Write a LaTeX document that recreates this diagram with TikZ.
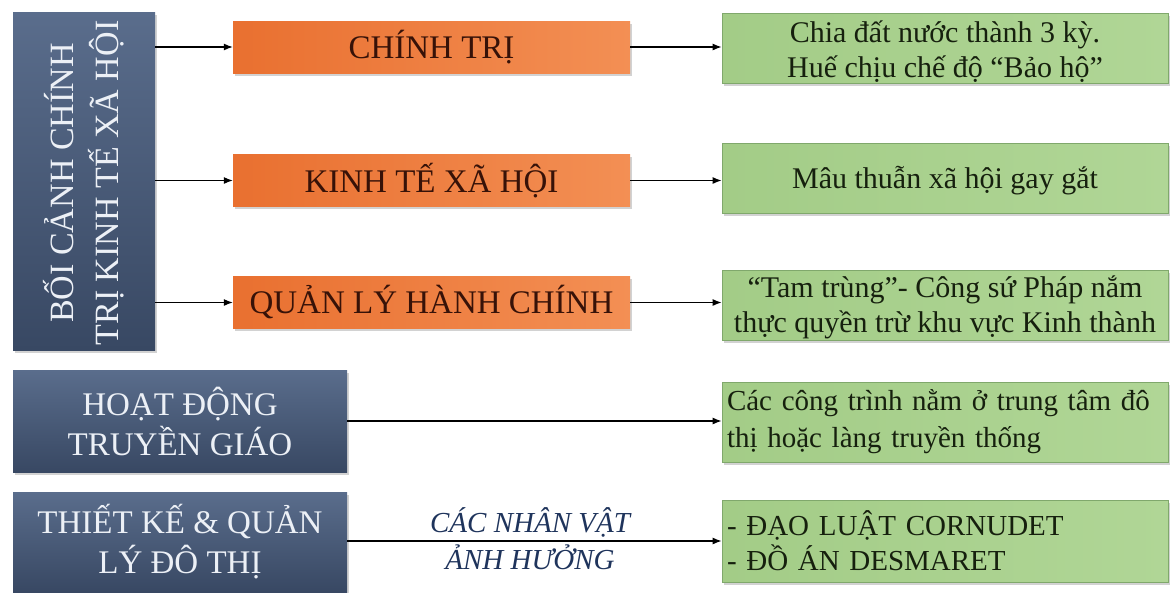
\documentclass[tikz,border=0pt]{standalone}
\usepackage{fontspec}
\setmainfont{Liberation Serif}
\usetikzlibrary{arrows.meta,shadows,shadings}
\definecolor{dkTop}{RGB}{90,109,140}
\definecolor{dkBot}{RGB}{56,72,99}
\definecolor{orL}{RGB}{233,112,48}
\definecolor{orR}{RGB}{243,143,84}
\definecolor{grL}{RGB}{163,204,135}
\definecolor{grR}{RGB}{176,214,150}
\definecolor{grD}{RGB}{128,168,108}
\definecolor{orTxt}{RGB}{55,18,8}
\definecolor{grTxt}{RGB}{22,32,14}
\definecolor{lblC}{RGB}{31,52,92}
\definecolor{wTxt}{RGB}{236,240,246}
\tikzset{
  sh/.style={drop shadow={opacity=0.35,shadow xshift=1.5pt,shadow yshift=-2.5pt}},
  darkbox/.style={sh,rectangle,top color=dkTop,bottom color=dkBot,draw=none,text=wTxt,
    font=\fontsize{33}{40}\selectfont,align=center,inner sep=0pt},
  orbox/.style={sh,rectangle,left color=orL,right color=orR,draw=none,text=orTxt,
    font=\fontsize{33}{38}\selectfont,minimum width=397pt,minimum height=52pt,inner sep=0pt},
  grbox/.style={sh,rectangle,left color=grL,right color=grR,draw=grD,line width=0.8pt,text=grTxt,
    font=\fontsize{30}{35}\selectfont,minimum width=446pt,inner sep=0pt},
  grtext/.style={text=grTxt,font=\fontsize{30}{35}\selectfont,align=center,inner sep=0pt},
  arr/.style={-{Latex[length=9pt,width=7pt]},line width=1.1pt,black}
}
\begin{document}
\begin{tikzpicture}[x=1pt,y=-1pt]
\useasboundingbox[fill=white] (0,0) rectangle (1170,592);
% left column
\node[darkbox,minimum width=142pt,minimum height=338pt] (ctx) at (84,181) {};
\node[text=wTxt,font=\fontsize{34}{45}\selectfont,rotate=90,align=center] (ctxt) at (84,183) {BỐI CẢNH CHÍNH\\TRỊ KINH TẾ XÃ HỘI};
\node[darkbox,minimum width=334pt,minimum height=102pt] (tg) at (180,421) {HOẠT ĐỘNG\\TRUYỀN GIÁO};
\node[darkbox,minimum width=334pt,minimum height=100pt] (tk) at (180,542) {THIẾT KẾ \& QUẢN\\LÝ ĐÔ THỊ};
% orange
\node[orbox] (ct) at (431.5,47) {CHÍNH TRỊ};
\node[orbox] (kt) at (431.5,180.5) {KINH TẾ XÃ HỘI};
\node[orbox] (ql) at (431.5,302.5) {QUẢN LÝ HÀNH CHÍNH};
% green
\node[grbox,minimum height=70pt] (g1) at (945,48) {};
\node[grtext] (g1t) at ([yshift=-4pt]g1.center) {Chia đất nước thành 3 kỳ.\\Huế chịu chế độ “Bảo hộ”};
\node[grbox,minimum height=70pt] (g2) at (945,178) {};
\node[grtext] (g2t) at ([yshift=-3pt]g2.center) {Mâu thuẫn xã hội gay gắt};
\node[grbox,minimum height=70pt] (g3) at (945,305) {};
\node[grtext] (g3t) at ([yshift=-2pt]g3.center) {“Tam trùng”- Công sứ Pháp nắm\\thực quyền trừ khu vực Kinh thành};
\node[grbox,font=\fontsize{29}{37}\selectfont,minimum height=80pt,align=left,text width=436pt,inner xsep=5pt] (g4) at (945,422) {Các công trình nằm ở trung tâm đô\\thị hoặc làng truyền thống};
\node[grbox,font=\fontsize{29}{35}\selectfont,minimum height=82pt,align=left,text width=436pt,inner xsep=5pt] (g5) at (945,541) {- ĐẠO LUẬT CORNUDET\\- ĐỒ ÁN DESMARET};
% arrows
\draw[arr] (ctx.east |- ct.west) -- (ct.west);
\draw[arr] (ctx.east |- kt.west) -- (kt.west);
\draw[arr] (ctx.east |- ql.west) -- (ql.west);
\draw[arr] (ct.east) -- (ct.east -| g1.west);
\draw[arr] (kt.east) -- (kt.east -| g2.west);
\draw[arr] (ql.east) -- (ql.east -| g3.west);
\draw[arr] (tg.east) -- (tg.east -| g4.west);
\draw[arr] (tk.east |- g5.west) -- (g5.west);
\node[text=lblC,font=\fontsize{29}{37}\selectfont\itshape,align=center] (lbl) at (530,539) {CÁC NHÂN VẬT\\ẢNH HƯỞNG};
\end{tikzpicture}
\end{document}
